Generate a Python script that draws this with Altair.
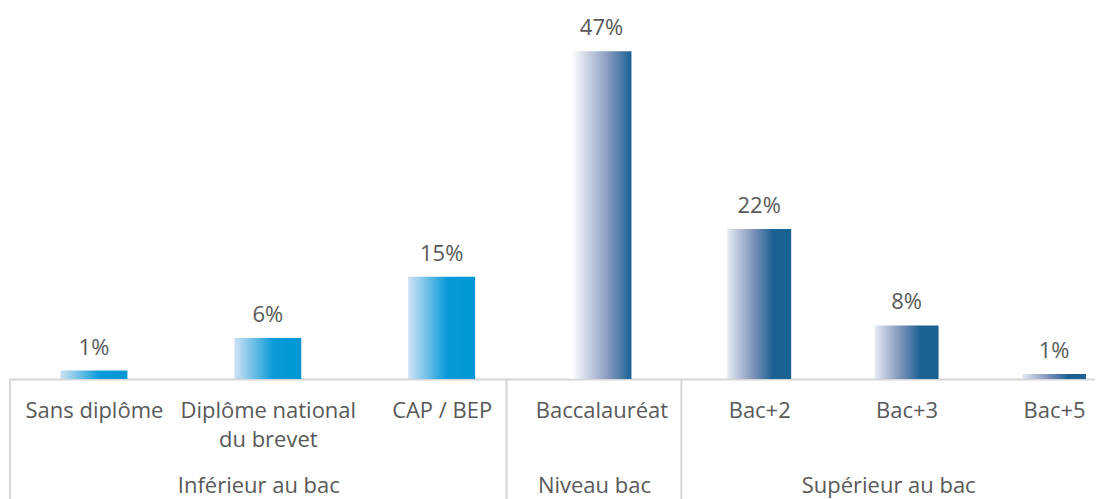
import altair as alt
import pandas as pd

# ---- data ----
categories = ["Sans diplôme", "Diplôme national|du brevet", "CAP / BEP",
              "Baccalauréat", "Bac+2", "Bac+3", "Bac+5"]
groups = ["Inférieur au bac", "Inférieur au bac", "Inférieur au bac",
          "Niveau bac", "Supérieur au bac", "Supérieur au bac", "Supérieur au bac"]
values = [1.2, 5.9, 14.7, 47.2, 21.6, 7.7, 0.7]
value_labels = ["1%", "6%", "15%", "47%", "22%", "8%", "1%"]
group_order = ["Inférieur au bac", "Niveau bac", "Supérieur au bac"]

df = pd.DataFrame({"cat": categories, "grp": groups, "val": values, "lab": value_labels})

FONT = "Open Sans"
FS = 22
TXT = "#595959"
GRID = "#d6d6d6"
H = 371
YMAX = 53.4

light_blue = alt.LinearGradient(
    gradient="linear", x1=0, x2=1, y1=0, y2=0,
    stops=[alt.GradientStop(color="#cfe3f5", offset=0),
           alt.GradientStop(color="#0a9ad9", offset=0.58),
           alt.GradientStop(color="#0096d6", offset=1)])
dark_bac = alt.LinearGradient(
    gradient="linear", x1=0, x2=1, y1=0, y2=0,
    stops=[alt.GradientStop(color="#ffffff", offset=0),
           alt.GradientStop(color="#8a9cc0", offset=0.6),
           alt.GradientStop(color="#1a6194", offset=1)])
dark_sup = alt.LinearGradient(
    gradient="linear", x1=0, x2=1, y1=0, y2=0,
    stops=[alt.GradientStop(color="#e6eaf4", offset=0),
           alt.GradientStop(color="#7f95bb", offset=0.4),
           alt.GradientStop(color="#1a6194", offset=0.72),
           alt.GradientStop(color="#1a6194", offset=1)])

# panel styles: width, bar size, point-scale padding & align, fill
styles = {
    "Inférieur au bac": dict(w=497, size=67, pad=0.428, align=0.564, fill=light_blue),
    "Niveau bac": dict(w=175, size=60, pad=0.5, align=0.543, fill=dark_bac),
    "Supérieur au bac": dict(w=414, size=64, pad=0.403, align=0.655, fill=dark_sup),
}

sep_df = pd.DataFrame({"s": [0]})

panels = []
for g in group_order:
    st = styles[g]
    base = alt.Chart(df).transform_filter(alt.datum.grp == g)
    x = alt.X("cat:N", sort=None,
              scale=alt.Scale(type="point", padding=st["pad"], align=st["align"]),
              axis=alt.Axis(title=g, labelExpr="split(datum.label, '|')",
                            labelAngle=0, labelFont=FONT, labelFontSize=FS,
                            labelColor=TXT, labelLineHeight=29, labelPadding=22,
                            ticks=False, tickSize=0, domainColor=GRID, domainWidth=2,
                            titleFont=FONT, titleFontSize=FS, titleFontWeight="normal",
                            titleColor=TXT, titleBaseline="alphabetic", titleY=114,
                            labelLimit=400))
    y = alt.Y("val:Q", scale=alt.Scale(domain=[0, YMAX], nice=False, zero=True), axis=None)
    bars = base.mark_bar(size=st["size"], fill=st["fill"]).encode(x=x, y=y)
    texts = base.mark_text(font=FONT, fontSize=FS, color=TXT, baseline="alphabetic",
                           dy=-16).encode(x=alt.X("cat:N", sort=None), y=y, text="lab:N")
    sep = alt.Chart(sep_df).mark_rule(color=GRID, strokeWidth=2).encode(
        x=alt.value(0), y=alt.value(H), y2=alt.value(H + 125))
    panels.append(alt.layer(bars, texts, sep).properties(width=st["w"], height=H))

chart = alt.hconcat(*panels, spacing=0, bounds="flush").resolve_scale(x="independent").properties(
    padding={"left": 1, "top": 0, "right": 0, "bottom": 0},
    background="white",
).configure_view(stroke=None)

chart.save("out.html", embed_options={"renderer": "svg", "actions": False})
